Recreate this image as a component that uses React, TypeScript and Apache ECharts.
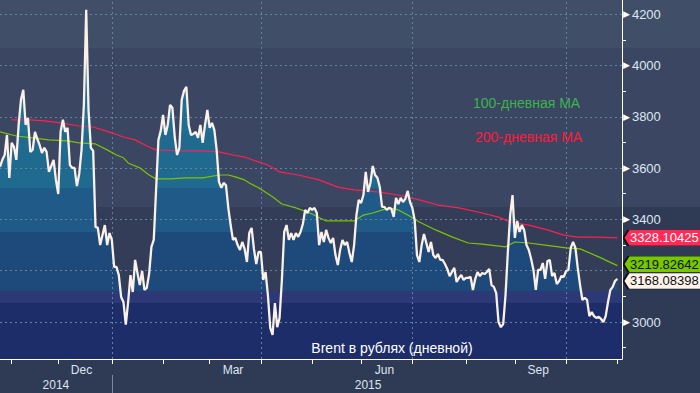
import React, { useEffect, useRef } from "react";
import * as echarts from "echarts";

// ---------- data ----------
const FIRST_DAY = "2014-10-27";
const TRADING_DAYS = 268;

const brent = [
  3605, 3632, 3651, 3729, 3562, 3698, 3683, 3632, 3768, 3866,
  3905, 3768, 3796, 3663, 3671, 3741, 3714, 3690, 3659, 3679,
  3663, 3585, 3608, 3632, 3554, 3499, 3741, 3788, 3741, 3757,
  3612, 3601, 3601, 3530, 3577, 3671, 3846, 4217, 3827, 3679,
  3667, 3371, 3367, 3300, 3339, 3378, 3300, 3347, 3320, 3215,
  3215, 3183, 3098, 3078, 2990, 3078, 3183, 3117, 3242, 3191,
  3144, 3199, 3125, 3133, 3187, 3293, 3320, 3515, 3710, 3745,
  3807, 3729, 3768, 3846, 3835, 3722, 3651, 3679, 3866, 3901,
  3917, 3768, 3729, 3733, 3741, 3718, 3768, 3698, 3768, 3827,
  3757, 3776, 3749, 3671, 3546, 3523, 3542, 3534, 3445, 3378,
  3320, 3328, 3300, 3281, 3312, 3285, 3234, 3347, 3367, 3285,
  3226, 3273, 3273, 3164, 3195, 3105, 2977, 2950, 3074, 2980,
  3016, 3164, 3351, 3378, 3320, 3347, 3320, 3347, 3332, 3351,
  3382, 3437, 3425, 3445, 3437, 3445, 3425, 3300, 3351, 3312,
  3359, 3328, 3308, 3328, 3261, 3222, 3281, 3320, 3300, 3312,
  3269, 3234, 3300, 3417, 3476, 3464, 3495, 3585, 3507, 3542,
  3608, 3573, 3562, 3527, 3449, 3449, 3437, 3445, 3441, 3410,
  3484, 3460, 3484, 3468, 3480, 3511, 3468, 3445, 3398, 3261,
  3234, 3300, 3343, 3308, 3273, 3312, 3261, 3250, 3265, 3242,
  3242, 3226, 3207, 3179, 3195, 3211, 3156, 3172, 3183, 3164,
  3172, 3172, 3176, 3125, 3168, 3195, 3179, 3191, 3187, 3195,
  3207, 3144, 3137, 3113, 3000, 2980, 2992, 3105, 3273, 3417,
  3495, 3328, 3394, 3351, 3378, 3359, 3300, 3281, 3246, 3203,
  3125, 3203, 3203, 3230, 3168, 3238, 3242, 3179, 3191, 3148,
  3160, 3179, 3176, 3199, 3203, 3289, 3312, 3289, 3211, 3144,
  3086, 3094, 3086, 3023, 3039, 3023, 3016, 3020, 3012, 3000,
  3023, 3078, 3125, 3137, 3160, 3168.08398,
];

// moving averages: trading-day index -> value
const ma100At = [0, 7, 14, 21, 29, 34, 41, 46, 50, 53, 55, 60, 64, 67, 73, 80, 87, 94, 98, 101, 105, 107, 111, 117, 121, 127, 133, 140, 152, 156, 160, 167, 171, 175, 180, 187, 194, 201, 207, 217, 221, 227, 234, 243, 249, 257, 265];
const ma100 = [3741, 3725, 3718, 3710, 3706, 3698, 3694, 3671, 3651, 3640, 3620, 3601, 3573, 3558, 3558, 3562, 3562, 3573, 3573, 3566, 3554, 3542, 3523, 3488, 3460, 3445, 3425, 3394, 3394, 3417, 3425, 3445, 3437, 3417, 3390, 3359, 3332, 3308, 3304, 3293, 3312, 3308, 3300, 3289, 3285, 3254, 3219.82642];

const ma200At = [5, 13, 19, 26, 34, 40, 44, 48, 53, 58, 63, 67, 77, 87, 94, 100, 105, 111, 115, 120, 128, 137, 145, 152, 162, 171, 180, 188, 197, 207, 214, 219, 227, 235, 242, 248, 257, 265];
const ma200 = [3788, 3788, 3784, 3776, 3764, 3760, 3749, 3737, 3721, 3710, 3686, 3671, 3667, 3667, 3663, 3651, 3643, 3624, 3612, 3585, 3573, 3554, 3526, 3515, 3507, 3495, 3476, 3456, 3445, 3425, 3409, 3390, 3378, 3359, 3339, 3331, 3331, 3328.10425];

// y-axis tick values (gridlines)
const yGridValues = [3000, 3200, 3400, 3600, 3800, 4000, 4200];

// value bands (background of plot) and fill bands (under the price line)
const bgBandEdges = [2856, 3074, 3121, 3448, 4068, 4255];
const bgBandColors = ["#1c2d69", "#2c3976", "#333d57", "#3a4662", "#414e68"];
const fillBandEdges = [3074, 3121, 3351, 3522, 3741];
const fillBandColors = ["#1c2d69", "#2c3976", "#1e4a7b", "#1f5a88", "#20698f", "#1f6f95"];

const Y_MIN = 2856;
const Y_MAX = 4255;

const monthNames = ["Jan", "Feb", "Mar", "Apr", "May", "Jun", "Jul", "Aug", "Sep", "Oct", "Nov", "Dec"];
const labelledMonths = [12, 3, 6, 9];
const quarterMonths = [1, 4, 7, 10];

const titleText = "Brent в рублях (дневной)";
const ma100Text = "100-дневная MA";
const ma200Text = "200-дневная MA";

// ---------- helpers ----------
function buildTradingDays(start: string, count: number): string[] {
  const out: string[] = [];
  const d = new Date(start + "T00:00:00Z");
  while (out.length < count) {
    const wd = d.getUTCDay();
    if (wd !== 0 && wd !== 6) out.push(d.toISOString().slice(0, 10));
    d.setUTCDate(d.getUTCDate() + 1);
  }
  return out;
}

const FONT = "'Liberation Sans', Arial, sans-serif";

export default function App() {
  const ref = useRef<HTMLDivElement>(null);

  useEffect(() => {
    if (!ref.current) return;
    const chart = echarts.init(ref.current, undefined, { renderer: "svg" });

    const days = buildTradingDays(FIRST_DAY, TRADING_DAYS);
    const mon = (s: string) => +s.slice(5, 7);
    const dom = (s: string) => +s.slice(8, 10);
    const yr = (s: string) => s.slice(0, 4);

    const monthStart = new Set<number>();
    const quarterStart: number[] = [];
    const monthLabel = new Set<number>();
    days.forEach((d, i) => {
      if (i > 0 && mon(d) !== mon(days[i - 1])) {
        monthStart.add(i);
        if (quarterMonths.includes(mon(d))) quarterStart.push(i);
      }
      if (
        labelledMonths.includes(mon(d)) &&
        dom(d) >= 15 &&
        (i === 0 || dom(days[i - 1]) < 15 || mon(days[i - 1]) !== mon(d))
      ) {
        monthLabel.add(i);
      }
    });
    const yearFirst = new Map<string, number>();
    const yearLast = new Map<string, number>();
    days.forEach((d, i) => {
      const y = yr(d);
      if (!yearFirst.has(y)) yearFirst.set(y, i);
      yearLast.set(y, i);
    });
    const yearLabel = new Map<number, string>();
    const yearSep = new Set<number>();
    yearFirst.forEach((f, y) => {
      const l = yearLast.get(y)!;
      yearLabel.set(Math.round((f + l) / 2), y);
      if (f > 0) yearSep.add(f);
    });

    const gridColor = "#6283a0";

    const pieces: any[] = [];
    for (let k = 0; k < fillBandColors.length; k++) {
      const p: any = { color: fillBandColors[k] };
      if (k > 0) p.gte = fillBandEdges[k - 1];
      if (k < fillBandEdges.length) p.lt = fillBandEdges[k];
      pieces.push(p);
    }

    const bgAreas = bgBandColors.map((c, k) => [
      { yAxis: bgBandEdges[k], itemStyle: { color: c } },
      { yAxis: bgBandEdges[k + 1] },
    ]);

    const gridMarks = [
      ...yGridValues.map((v) => ({ yAxis: v })),
      ...quarterStart.map((i) => ({ xAxis: i })),
    ];

    const lastIdx = brent.length - 1;
    const lastValues = [brent[lastIdx], ma100[ma100.length - 1], ma200[ma200.length - 1]];

    const tag = (
      x: number,
      value: number,
      fill: string,
      text: string,
      dy: number
    ) => ({
      symbol: "path://M0,8 L6,0 L100,0 L100,16 L6,16 Z",
      symbolSize: [84, 16],
      symbolOffset: [48, dy],
      silent: true,
      itemStyle: { color: fill, borderColor: "#111111", borderWidth: 1 },
      label: {
        show: true,
        position: "inside",
        offset: [-1, 0],
        color: text,
        fontSize: 13,
        fontFamily: FONT,
        formatter: () => value.toFixed(5),
      },
      data: [{ coord: [x, value], value }],
    });

    chart.setOption({
      animation: false,
      backgroundColor: "transparent",
      grid: { left: 0, top: 0, right: 78, bottom: 34, containLabel: false },
      visualMap: {
        show: false,
        type: "piecewise",
        seriesIndex: 0,
        dimension: 1,
        pieces,
      },
      xAxis: [
        {
          type: "category",
          data: days,
          boundaryGap: false,
          z: 6,
          axisLine: { show: true, lineStyle: { color: "#ffffff", width: 1 } },
          axisTick: {
            show: true,
            interval: (i: number) => monthStart.has(i),
            length: 5,
            lineStyle: { color: "#ffffff" },
          },
          axisLabel: {
            interval: (i: number) => monthLabel.has(i),
            formatter: (v: string) => monthNames[mon(v) - 1],
            color: "#dde6f0",
            fontSize: 12,
            fontFamily: FONT,
            margin: 5,
          },
          splitLine: { show: false },
        },
        {
          type: "category",
          data: days,
          boundaryGap: false,
          position: "bottom",
          offset: 16,
          axisLine: { show: false },
          axisTick: {
            show: true,
            interval: (i: number) => yearSep.has(i),
            length: 18,
            lineStyle: { color: "#7d889c" },
          },
          axisLabel: {
            interval: (i: number) => yearLabel.has(i),
            formatter: (v: string) => yr(v),
            color: "#dde6f0",
            fontSize: 12,
            fontFamily: FONT,
            margin: 4,
          },
          splitLine: { show: false },
        },
      ],
      yAxis: {
        type: "value",
        position: "right",
        min: Y_MIN,
        max: Y_MAX,
        splitNumber: 7,
        z: 6,
        axisLine: { show: true, lineStyle: { color: "#ffffff", width: 1 } },
        axisTick: { show: false },
        minorTick: { show: true, splitNumber: 2, length: 4, lineStyle: { color: "#ffffff" } },
        splitLine: { show: false },
        axisLabel: {
          showMinLabel: false,
          showMaxLabel: false,
          margin: 1,
          // labels hidden behind the value tags are not drawn
          formatter: (v: number) =>
            lastValues.some((lv) => Math.abs(lv - v) < 45) ? "" : `{a|▶}{b|${v}}`,
          rich: {
            a: { color: "#ffffff", fontSize: 9, fontFamily: "'DejaVu Sans', sans-serif" },
            b: { color: "#dde6f0", fontSize: 13, fontFamily: FONT, padding: [0, 0, 0, 2] },
          },
        },
      },
      graphic: [
        {
          type: "text",
          x: 392,
          y: 348,
          z: 10,
          style: {
            text: titleText,
            fill: "#ffffff",
            font: `14px ${FONT}`,
            textAlign: "center",
            textVerticalAlign: "middle",
          },
        },
        {
          type: "text",
          x: 473,
          y: 103,
          z: 10,
          style: {
            text: ma100Text,
            fill: "#3ab54a",
            font: `14px ${FONT}`,
            textAlign: "left",
            textVerticalAlign: "middle",
          },
        },
        {
          type: "text",
          x: 475,
          y: 137,
          z: 10,
          style: {
            text: ma200Text,
            fill: "#ff1a3d",
            font: `14px ${FONT}`,
            textAlign: "left",
            textVerticalAlign: "middle",
          },
        },
      ],
      series: [
        {
          type: "line",
          data: brent,
          showSymbol: false,
          silent: true,
          z: 2,
          lineStyle: { width: 0, opacity: 0 },
          areaStyle: { opacity: 1, origin: "start" },
        },
        {
          type: "line",
          data: ma200At.map((d, i) => [d, ma200[i]]),
          showSymbol: false,
          silent: true,
          z: 4,
          lineStyle: { color: "#ff2050", width: 1.2 },
          markArea: { silent: true, z: 1, data: bgAreas },
          markPoint: tag(ma200At[ma200At.length - 1], ma200[ma200.length - 1], "#ff2a55", "#ffffff", 0),
        },
        {
          type: "line",
          data: ma100At.map((d, i) => [d, ma100[i]]),
          showSymbol: false,
          silent: true,
          z: 4,
          lineStyle: { color: "#7cc400", width: 1.2 },
          markPoint: tag(ma100At[ma100At.length - 1], ma100[ma100.length - 1], "#77c800", "#111111", -1.5),
        },
        {
          type: "line",
          data: brent,
          showSymbol: false,
          silent: true,
          z: 5,
          lineStyle: { color: "#fbf1e8", width: 2.3 },
          markLine: {
            silent: true,
            z: 3,
            symbol: ["none", "none"],
            precision: 5,
            label: { show: false },
            emphasis: { disabled: true },
            lineStyle: { color: gridColor, width: 1, type: [2, 3], opacity: 1 },
            data: gridMarks,
          },
          markPoint: { ...tag(lastIdx, brent[lastIdx], "#fdf3ea", "#111111", 2), z: 6 },
        },
      ],
    });

    return () => chart.dispose();
  }, []);

  return (
    <div
      ref={ref}
      style={{
        position: "fixed",
        left: 0,
        top: 0,
        width: 700,
        height: 393,
        background:
          "linear-gradient(to bottom, #414e68 0px, #414e68 48px, #3a4662 48px, #3a4662 207px, #2f3a54 207px, #2f3a54 393px)",
      }}
    />
  );
}
